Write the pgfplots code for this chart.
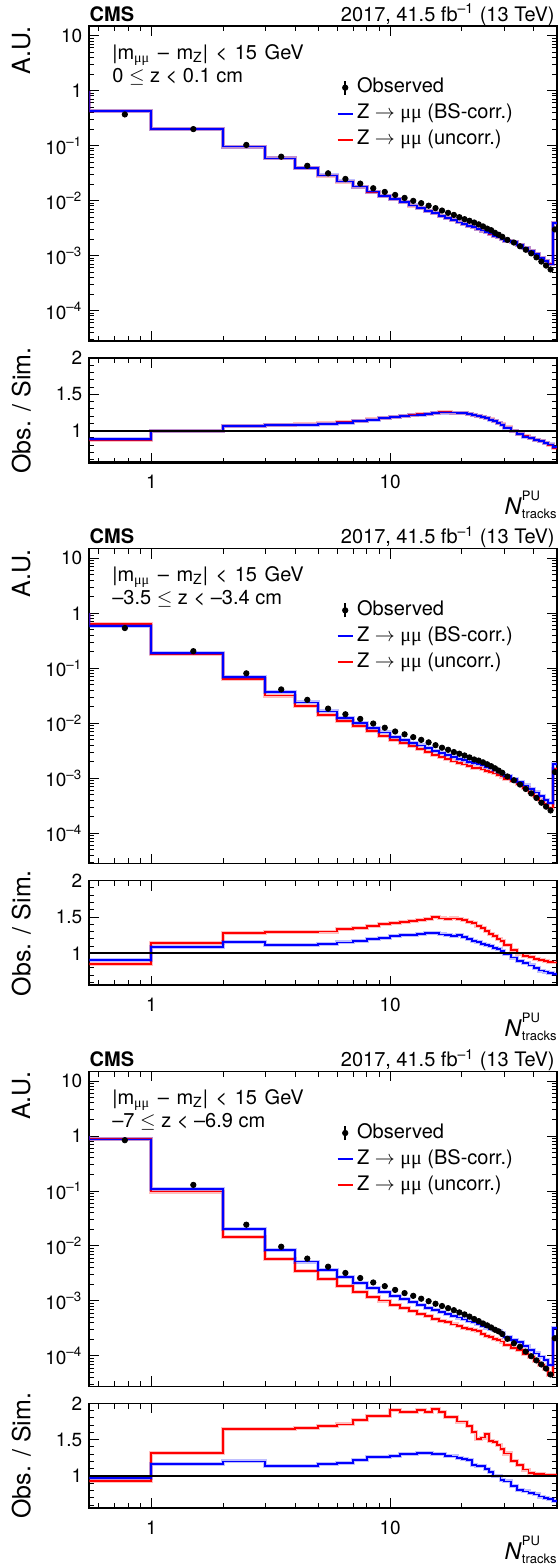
\documentclass[border=0pt]{standalone}
\usepackage{fontspec}
\setmainfont{TeX Gyre Heros}
\newfontfamily\muf{Liberation Serif}
\usepackage{pgfplots}
\usepackage{pgfplotstable}
\pgfplotsset{compat=1.18}
\definecolor{rblue}{RGB}{0,0,255}
\definecolor{rred}{RGB}{255,0,0}

% columns: left bin edge, bin centre, observed, obs/sim (BS-corr.), obs/sim (uncorr.)
\pgfplotstableread{
x xc obs rb rr
0.55 0.775 1 1 1
0.55 0.775 0.37 0.88 0.875
1 1.5 0.20 1.00 1.00
2 2.5 0.103 1.068 1.07
3 3.5 0.063 1.075 1.075
4 4.5 0.043 1.08 1.085
5 5.5 0.0314 1.095 1.10
6 6.5 0.0248 1.11 1.115
7 7.5 0.0204 1.13 1.13
8 8.5 0.0168 1.15 1.155
9 9.5 0.0144 1.17 1.17
10 10.5 0.0127 1.19 1.19
11 11.5 0.0112 1.20 1.205
12 12.5 0.0099 1.21 1.215
13 13.5 0.0090 1.22 1.225
14 14.5 0.0081 1.23 1.235
15 15.5 0.0073 1.245 1.25
16 16.5 0.0066 1.25 1.255
17 17.5 0.0060 1.25 1.255
18 18.5 0.0055 1.25 1.25
19 19.5 0.0050 1.245 1.245
20 20.5 0.0046 1.24 1.24
21 21.5 0.0043 1.23 1.235
22 22.5 0.0040 1.22 1.22
23 23.5 0.0037 1.20 1.205
24 24.5 0.0034 1.19 1.19
25 25.5 0.0031 1.17 1.17
26 26.5 0.0029 1.15 1.155
27 27.5 0.0026 1.13 1.13
28 28.5 0.0024 1.11 1.11
29 29.5 0.0022 1.08 1.085
30 31 0.00193 1.04 1.045
32 33 0.00173 0.99 0.995
34 35 0.00148 0.95 0.955
36 37 0.00128 0.918 0.922
38 39 0.00110 0.895 0.895
40 41 0.00093 0.875 0.875
42 43 0.00078 0.855 0.855
44 45 0.00066 0.835 0.835
46 47 0.00056 0.81 0.805
48 49 0.0030 0.77 0.765
50 49 0.0030 0.77 0.765
}\tabA

\pgfplotstableread{
x xc obs rb rr
0.55 0.775 1 1 1
0.55 0.775 0.54 0.913 0.858
1 1.5 0.205 1.092 1.138
2 2.5 0.081 1.151 1.28
3 3.5 0.0413 1.12 1.29
4 4.5 0.0267 1.115 1.29
5 5.5 0.0185 1.124 1.30
6 6.5 0.0146 1.15 1.335
7 7.5 0.0120 1.17 1.353
8 8.5 0.0099 1.197 1.38
9 9.5 0.0083 1.216 1.40
10 10.5 0.0071 1.239 1.42
11 11.5 0.0063 1.248 1.436
12 12.5 0.0056 1.257 1.45
13 13.5 0.0050 1.266 1.463
14 14.5 0.0045 1.28 1.472
15 15.5 0.0040 1.275 1.495
16 16.5 0.0036 1.26 1.48
17 17.5 0.0033 1.257 1.477
18 18.5 0.0030 1.243 1.48
19 19.5 0.0028 1.252 1.472
20 20.5 0.0026 1.225 1.454
21 21.5 0.0024 1.197 1.436
22 22.5 0.0022 1.174 1.417
23 23.5 0.0021 1.156 1.38
24 24.5 0.00195 1.133 1.344
25 25.5 0.0018 1.115 1.31
26 26.5 0.00166 1.096 1.27
27 27.5 0.00152 1.078 1.24
28 28.5 0.00138 1.06 1.20
29 29.5 0.00126 1.032 1.17
30 31 0.00108 0.99 1.115
32 33 0.00092 0.942 1.045
34 35 0.00077 0.897 0.997
36 37 0.00064 0.865 0.967
38 39 0.00053 0.833 0.945
40 41 0.00044 0.795 0.925
42 43 0.00036 0.763 0.909
44 45 0.000305 0.75 0.895
46 47 0.00026 0.727 0.885
48 49 0.0013 0.715 0.875
50 49 0.0013 0.715 0.875
}\tabB

\pgfplotstableread{
x xc obs rb rr
0.55 0.775 1 1 1
0.55 0.775 0.84 0.968 0.936
1 1.5 0.129 1.17 1.32
2 2.5 0.0244 1.20 1.647
3 3.5 0.0097 1.138 1.647
4 4.5 0.0059 1.133 1.66
5 5.5 0.0042 1.16 1.683
6 6.5 0.00323 1.174 1.71
7 7.5 0.00261 1.225 1.775
8 8.5 0.00217 1.26 1.83
9 9.5 0.00186 1.257 1.83
10 10.5 0.00159 1.28 1.91
11 11.5 0.00139 1.30 1.876
12 12.5 0.00124 1.30 1.876
13 13.5 0.00110 1.317 1.91
14 14.5 0.00099 1.317 1.876
15 15.5 0.00089 1.30 1.92
16 16.5 0.00081 1.298 1.876
17 17.5 0.00074 1.28 1.807
18 18.5 0.00068 1.27 1.816
19 19.5 0.00062 1.243 1.75
20 20.5 0.00057 1.234 1.75
21 21.5 0.00052 1.225 1.683
22 22.5 0.00047 1.15 1.61
23 23.5 0.00043 1.142 1.51
24 24.5 0.00039 1.133 1.53
25 25.5 0.00036 1.096 1.578
26 26.5 0.00033 1.05 1.486
27 27.5 0.00030 1.005 1.472
28 28.5 0.00028 0.995 1.427
29 29.5 0.00025 0.95 1.37
30 31 0.000205 0.925 1.31
32 33 0.000170 0.86 1.21
34 35 0.000147 0.81 1.149
36 37 0.000120 0.788 1.089
38 39 0.000099 0.77 1.045
40 41 0.000083 0.746 1.032
42 43 0.000070 0.718 1.027
44 45 0.000059 0.698 1.014
46 47 0.000046 0.679 1.02
48 49 0.00021 0.654 1.016
50 49 0.00021 0.654 1.016
}\tabC

\newcommand{\cmspanel}[4]{%
\begin{axis}[
    scale only axis, width=233.85pt, height=157.5pt,
    at={(44.65pt,-#1pt)}, anchor=north west,
    xmode=log, ymode=log,
    xmin=0.55, xmax=50, ymin=2.8e-5, ymax=15,
    xtick={1,10}, xticklabels={},
    minor xtick={0.6,0.7,0.8,0.9,2,3,4,5,6,7,8,9,20,30,40},
    ytick={1e-4,1e-3,1e-2,1e-1,1,10},
    yticklabels={10\textsuperscript{–4},10\textsuperscript{–3},10\textsuperscript{–2},10\textsuperscript{–1},1,10},
    minor ytick={3e-5,4e-5,5e-5,6e-5,7e-5,8e-5,9e-5,2e-4,3e-4,4e-4,5e-4,6e-4,7e-4,8e-4,9e-4,2e-3,3e-3,4e-3,5e-3,6e-3,7e-3,8e-3,9e-3,0.02,0.03,0.04,0.05,0.06,0.07,0.08,0.09,0.2,0.3,0.4,0.5,0.6,0.7,0.8,0.9,2,3,4,5,6,7,8,9},
    axis line style={line width=0.8pt, black},
    every tick/.append style={line width=0.5pt, black},
    major tick length=5pt, minor tick length=2.6pt,
    tick align=inside,
    tick label style={font=\fontsize{9.5}{11}\selectfont},
    clip mode=individual,
    ylabel={A.U.},
    ylabel style={font=\fontsize{12.5}{15}\selectfont, at={(axis description cs:-0.1456,1)}, anchor=east, inner sep=0pt},
    legend style={at={(axis description cs:0.529,0.836)}, anchor=north west, draw=none, fill=none,
      inner sep=0pt, outer sep=0pt, row sep=3pt, column sep=1.7pt,
      nodes={inner sep=0pt, text height=7.5pt, text depth=2.5pt},
      font=\fontsize{10}{12}\selectfont},
    legend cell align=left,
  ]
  \addlegendimage{legend image code/.code={\draw[black,line width=0.8pt] (3.75pt,-3.5pt)--(3.75pt,3.5pt); \fill[black] (3.75pt,0pt) circle (1.35pt);}}
  \addlegendimage{legend image code/.code={\draw[rblue,line width=1pt] (0pt,0pt)--(7.5pt,0pt);}}
  \addlegendimage{legend image code/.code={\draw[rred,line width=1pt] (0pt,0pt)--(7.5pt,0pt);}}
  \addplot[const plot, rred, opacity=0.25, line width=2pt, forget plot] table[x=x, y expr={\thisrow{obs}/\thisrow{rr}}] {#3};
  \addplot[const plot, rred, line width=0.9pt, forget plot] table[x=x, y expr={\thisrow{obs}/\thisrow{rr}}] {#3};
  \addplot[const plot, rblue, opacity=0.25, line width=2pt, forget plot] table[x=x, y expr={\thisrow{obs}/\thisrow{rb}}] {#3};
  \addplot[const plot, rblue, line width=0.9pt, forget plot] table[x=x, y expr={\thisrow{obs}/\thisrow{rb}}] {#3};
  \addplot[only marks, mark=*, mark size=1.35pt, black, forget plot,
    skip coords between index={0}{1}, skip coords between index={41}{42}] table[x=xc, y=obs] {#3};
  \legend{Observed, Z $\rightarrow$ {\muf μμ} (BS-corr.), Z $\rightarrow$ {\muf μμ} (uncorr.)}
  \node[anchor=base west, inner sep=0pt, font=\bfseries\fontsize{10}{12}\selectfont, yshift=2.5pt] at (axis description cs:0,1) {CMS};
  \node[anchor=base east, inner sep=0pt, font=\fontsize{10}{12}\selectfont, yshift=2.5pt, xshift=-1pt] at (axis description cs:1,1) {2017, 41.5 fb\textsuperscript{–1} (13 TeV)};
  \node[anchor=base west, inner sep=0pt, font=\fontsize{10}{12}\selectfont] at (axis description cs:0.0485,0.8952) {\spaceskip=0.38em|m\textsubscript{\muf μμ} – m\textsubscript{Z}| < 15 GeV};
  \node[anchor=base west, inner sep=0pt, font=\fontsize{10}{12}\selectfont] at (axis description cs:0.0485,0.822) {#4};
\end{axis}
\begin{axis}[
    scale only axis, width=233.85pt, height=52.5pt,
    at={(44.65pt,-#2pt)}, anchor=north west,
    xmode=log, xmin=0.55, xmax=50, ymin=0.555, ymax=2,
    xtick={1,10}, xticklabels={1,10},
    minor xtick={0.6,0.7,0.8,0.9,2,3,4,5,6,7,8,9,20,30,40},
    ytick={1,1.5,2}, yticklabels={1,1.5,2},
    minor ytick={0.6,0.7,0.8,0.9,1.1,1.2,1.3,1.4,1.6,1.7,1.8,1.9},
    axis line style={line width=0.8pt, black},
    every tick/.append style={line width=0.5pt, black},
    major tick length=5pt, minor tick length=2.6pt,
    tick align=inside,
    tick label style={font=\fontsize{9.5}{11}\selectfont},
    xticklabel style={yshift=-2.6pt},
    clip mode=individual,
    ylabel={Obs. / Sim.},
    ylabel style={font=\fontsize{12.5}{15}\selectfont, at={(axis description cs:-0.1456,0.5)}, anchor=center, inner sep=0pt},
    xlabel={\textit{N}\rlap{\raisebox{7pt}{\fontsize{6.5}{8}\selectfont PU}}\raisebox{-2pt}{\fontsize{6.5}{8}\selectfont tracks}},
    xlabel style={font=\fontsize{11.5}{14}\selectfont, at={(axis description cs:1,0)}, anchor=base east, inner sep=0pt, yshift=-25.5pt},
  ]
  \addplot[const plot, rred, opacity=0.25, line width=2pt, skip coords between index={0}{1}] table[x=x, y=rr] {#3};
  \addplot[const plot, rred, line width=0.9pt, skip coords between index={0}{1}] table[x=x, y=rr] {#3};
  \addplot[const plot, rblue, opacity=0.25, line width=2pt, skip coords between index={0}{1}] table[x=x, y=rb] {#3};
  \addplot[const plot, rblue, line width=0.9pt, skip coords between index={0}{1}] table[x=x, y=rb] {#3};
  \addplot[black, line width=1pt] coordinates {(0.55,1) (50,1)};
  \addplot[black, line width=1.6pt] coordinates {(0.55,0.555) (50,0.555)};
\end{axis}}

\begin{document}
\begin{tikzpicture}
\useasboundingbox (0,0) rectangle (279pt,-784pt);
\cmspanel{13}{179}{\tabA}{0 $\leq$ z < 0.1 cm}
\cmspanel{274.33}{440.33}{\tabB}{–3.5 $\leq$ z < –3.4 cm}
\cmspanel{535.67}{701.67}{\tabC}{–7 $\leq$ z < –6.9 cm}
\end{tikzpicture}
\end{document}
